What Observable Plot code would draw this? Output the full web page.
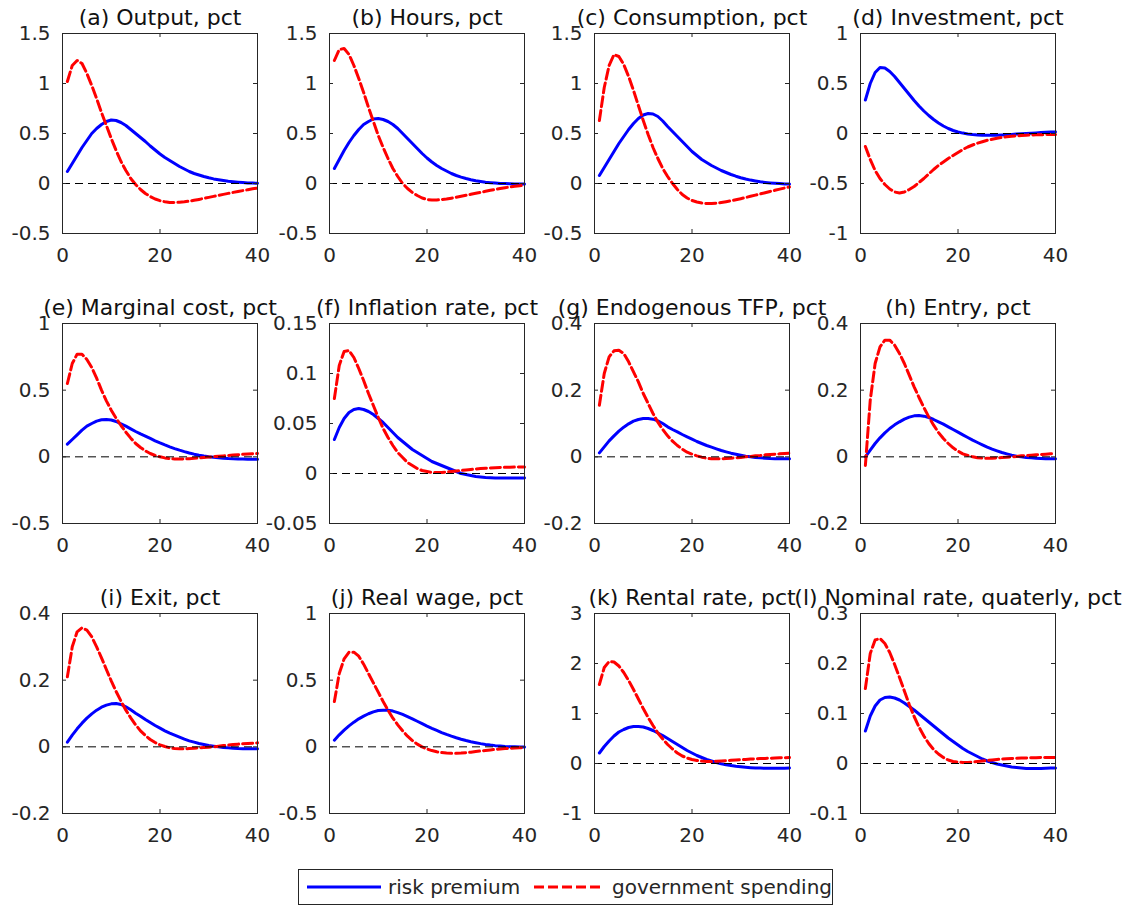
<!DOCTYPE html>
<html><head><meta charset="utf-8">
<script src="https://cdn.jsdelivr.net/npm/d3@7"></script>
<script src="https://cdn.jsdelivr.net/npm/@observablehq/plot@0.6"></script>
<style>
body{margin:0;background:#fff;font-family:"DejaVu Sans",sans-serif;}
#wrap{position:relative;width:1128px;height:907px;overflow:hidden;}
.panel{position:absolute;}
#legend{position:absolute;left:298px;top:869px;width:535px;height:36px;border:1px solid #262626;box-sizing:border-box;background:#fff;}
#legend span{position:absolute;top:50%;transform:translateY(-52%);font-size:20px;color:#262626;white-space:nowrap;}
#legend svg{position:absolute;}
</style></head>
<body><div id="wrap"></div>
<script>
const periods = d3.range(1, 41);
const xTicks = [0, 20, 40];
const titles = ["(a) Output, pct","(b) Hours, pct","(c) Consumption, pct","(d) Investment, pct",
  "(e) Marginal cost, pct","(f) Inflation rate, pct","(g) Endogenous TFP, pct","(h) Entry, pct",
  "(i) Exit, pct","(j) Real wage, pct","(k) Rental rate, pct","(l) Nominal rate, quaterly, pct"];
const yDomains = [[-0.5,1.5],[-0.5,1.5],[-0.5,1.5],[-1,1],[-0.5,1],[-0.05,0.15],[-0.2,0.4],[-0.2,0.4],[-0.2,0.4],[-0.5,1],[-1,3],[-0.1,0.3]];
const yTicks = [[-0.5,0,0.5,1,1.5],[-0.5,0,0.5,1,1.5],[-0.5,0,0.5,1,1.5],[-1,-0.5,0,0.5,1],[-0.5,0,0.5,1],
  [-0.05,0,0.05,0.1,0.15],[-0.2,0,0.2,0.4],[-0.2,0,0.2,0.4],[-0.2,0,0.2,0.4],[-0.5,0,0.5,1],[-1,0,1,2,3],[-0.1,0,0.1,0.2,0.3]];
const seriesNames = ["risk premium", "government spending"];

const outputRP = [0.12,0.2,0.28,0.36,0.43,0.5,0.55,0.59,0.62,0.635,0.63,0.61,0.58,0.54,0.5,0.46,0.42,0.375,0.335,0.295,0.26,0.23,0.2,0.17,0.145,0.12,0.1,0.085,0.07,0.057,0.046,0.037,0.029,0.022,0.017,0.013,0.009,0.006,0.004,0.002];
const outputGS = [1.02,1.18,1.23,1.2,1.1,0.98,0.85,0.71,0.58,0.45,0.33,0.22,0.13,0.05,-0.01,-0.06,-0.1,-0.13,-0.155,-0.172,-0.183,-0.189,-0.19,-0.188,-0.183,-0.176,-0.168,-0.159,-0.149,-0.139,-0.129,-0.119,-0.109,-0.099,-0.089,-0.08,-0.071,-0.062,-0.053,-0.045];
const hoursRP = [0.15,0.24,0.33,0.41,0.48,0.54,0.59,0.62,0.645,0.65,0.64,0.62,0.59,0.55,0.5,0.45,0.4,0.35,0.3,0.255,0.215,0.18,0.15,0.125,0.1,0.08,0.064,0.05,0.038,0.028,0.02,0.013,0.008,0.004,0.001,-0.001,-0.003,-0.004,-0.005,-0.005];
const hoursGS = [1.23,1.34,1.35,1.29,1.18,1.05,0.91,0.76,0.62,0.48,0.36,0.25,0.15,0.07,0.0,-0.05,-0.09,-0.12,-0.145,-0.16,-0.165,-0.165,-0.16,-0.155,-0.147,-0.138,-0.128,-0.118,-0.108,-0.098,-0.088,-0.078,-0.068,-0.059,-0.05,-0.042,-0.035,-0.028,-0.022,-0.017];
const consRP = [0.08,0.16,0.24,0.32,0.4,0.47,0.54,0.6,0.65,0.685,0.7,0.695,0.67,0.625,0.57,0.52,0.47,0.42,0.37,0.32,0.28,0.24,0.21,0.18,0.155,0.13,0.11,0.09,0.073,0.058,0.045,0.034,0.025,0.017,0.011,0.006,0.002,-0.001,-0.004,-0.006];
const consGS = [0.63,0.96,1.18,1.29,1.27,1.19,1.07,0.93,0.78,0.63,0.49,0.36,0.25,0.15,0.07,0.0,-0.06,-0.11,-0.145,-0.17,-0.185,-0.195,-0.2,-0.2,-0.197,-0.19,-0.182,-0.173,-0.163,-0.152,-0.14,-0.128,-0.116,-0.104,-0.092,-0.08,-0.068,-0.056,-0.045,-0.035];
const invRP = [0.335,0.5,0.61,0.66,0.655,0.62,0.57,0.51,0.45,0.39,0.33,0.275,0.225,0.18,0.14,0.105,0.075,0.05,0.03,0.015,0.004,-0.004,-0.01,-0.014,-0.017,-0.018,-0.018,-0.017,-0.015,-0.012,-0.009,-0.006,-0.003,0.0,0.003,0.006,0.009,0.012,0.014,0.016];
const invGS = [-0.13,-0.26,-0.37,-0.45,-0.51,-0.555,-0.585,-0.595,-0.585,-0.56,-0.53,-0.49,-0.45,-0.405,-0.36,-0.32,-0.285,-0.25,-0.22,-0.19,-0.16,-0.135,-0.115,-0.097,-0.082,-0.068,-0.057,-0.047,-0.039,-0.032,-0.027,-0.023,-0.02,-0.017,-0.015,-0.013,-0.012,-0.011,-0.01,-0.01];
const mcRP = [0.095,0.13,0.165,0.2,0.23,0.25,0.268,0.278,0.28,0.276,0.265,0.248,0.23,0.21,0.19,0.172,0.155,0.138,0.12,0.104,0.089,0.075,0.062,0.05,0.039,0.029,0.02,0.012,0.006,0.001,-0.003,-0.007,-0.01,-0.013,-0.015,-0.016,-0.017,-0.018,-0.018,-0.018];
const mcGS = [0.55,0.7,0.77,0.77,0.73,0.67,0.59,0.5,0.42,0.35,0.29,0.235,0.185,0.14,0.1,0.07,0.045,0.025,0.01,0.0,-0.008,-0.013,-0.016,-0.017,-0.016,-0.014,-0.011,-0.008,-0.005,-0.002,0.001,0.004,0.007,0.01,0.013,0.016,0.019,0.021,0.023,0.025];
const infRP = [0.034,0.046,0.055,0.061,0.064,0.065,0.064,0.062,0.059,0.055,0.051,0.046,0.041,0.036,0.032,0.028,0.024,0.021,0.018,0.015,0.012,0.01,0.008,0.006,0.004,0.002,0.0,-0.001,-0.002,-0.003,-0.0035,-0.004,-0.0043,-0.0045,-0.0046,-0.0046,-0.0046,-0.0045,-0.0045,-0.0044];
const infGS = [0.075,0.108,0.122,0.123,0.116,0.105,0.093,0.08,0.068,0.056,0.045,0.036,0.028,0.021,0.016,0.011,0.008,0.005,0.003,0.002,0.001,0.001,0.001,0.0015,0.002,0.0025,0.003,0.0035,0.004,0.0045,0.005,0.0053,0.0056,0.0058,0.006,0.0062,0.0063,0.0064,0.0065,0.0065];
const tfpRP = [0.012,0.03,0.048,0.063,0.077,0.089,0.099,0.107,0.112,0.115,0.115,0.113,0.108,0.1,0.09,0.082,0.075,0.067,0.06,0.053,0.046,0.04,0.034,0.029,0.024,0.019,0.015,0.011,0.008,0.005,0.002,0.0,-0.002,-0.003,-0.004,-0.005,-0.0055,-0.006,-0.006,-0.006];
const tfpGS = [0.155,0.25,0.3,0.318,0.32,0.31,0.285,0.255,0.225,0.19,0.16,0.13,0.104,0.082,0.063,0.047,0.034,0.023,0.014,0.008,0.003,-0.001,-0.004,-0.006,-0.006,-0.006,-0.005,-0.004,-0.003,-0.002,0.0,0.001,0.003,0.004,0.006,0.007,0.008,0.009,0.01,0.011];
const entryRP = [0.0,0.02,0.04,0.057,0.072,0.085,0.096,0.105,0.113,0.119,0.123,0.124,0.122,0.118,0.112,0.105,0.098,0.09,0.082,0.074,0.066,0.058,0.05,0.043,0.036,0.029,0.023,0.018,0.013,0.009,0.005,0.002,0.0,-0.002,-0.003,-0.004,-0.005,-0.006,-0.006,-0.006];
const entryGS = [-0.026,0.17,0.28,0.33,0.35,0.35,0.335,0.31,0.28,0.245,0.21,0.178,0.148,0.12,0.095,0.073,0.055,0.04,0.027,0.017,0.009,0.004,0.0,-0.003,-0.004,-0.004,-0.004,-0.003,-0.002,-0.001,0.0,0.001,0.003,0.004,0.005,0.006,0.007,0.008,0.009,0.01];
const exitRP = [0.014,0.035,0.054,0.071,0.086,0.099,0.11,0.119,0.125,0.129,0.13,0.127,0.12,0.111,0.101,0.092,0.082,0.073,0.064,0.056,0.048,0.041,0.035,0.029,0.023,0.018,0.014,0.01,0.007,0.004,0.002,0.0,-0.002,-0.003,-0.004,-0.005,-0.0055,-0.006,-0.006,-0.006];
const exitGS = [0.21,0.3,0.345,0.357,0.35,0.33,0.3,0.267,0.232,0.198,0.166,0.137,0.11,0.087,0.066,0.048,0.034,0.022,0.013,0.006,0.001,-0.003,-0.005,-0.006,-0.006,-0.005,-0.004,-0.003,-0.002,-0.001,0.0,0.002,0.004,0.005,0.007,0.008,0.009,0.01,0.011,0.012];
const wageRP = [0.05,0.09,0.125,0.157,0.185,0.21,0.23,0.248,0.262,0.272,0.275,0.274,0.268,0.257,0.243,0.227,0.21,0.192,0.174,0.156,0.139,0.123,0.107,0.093,0.08,0.068,0.057,0.047,0.038,0.031,0.024,0.018,0.013,0.009,0.006,0.003,0.001,0.0,-0.001,-0.002];
const wageGS = [0.34,0.55,0.66,0.71,0.71,0.68,0.62,0.55,0.48,0.41,0.34,0.275,0.215,0.165,0.12,0.08,0.047,0.02,0.0,-0.016,-0.028,-0.037,-0.043,-0.047,-0.049,-0.049,-0.047,-0.044,-0.04,-0.035,-0.031,-0.027,-0.023,-0.019,-0.016,-0.013,-0.011,-0.009,-0.007,-0.006];
const rentRP = [0.21,0.34,0.45,0.55,0.63,0.68,0.72,0.74,0.74,0.73,0.7,0.66,0.61,0.56,0.5,0.44,0.38,0.32,0.26,0.21,0.16,0.12,0.08,0.05,0.02,-0.005,-0.025,-0.042,-0.056,-0.067,-0.076,-0.083,-0.088,-0.092,-0.094,-0.095,-0.095,-0.094,-0.093,-0.092];
const rentGS = [1.58,1.92,2.04,2.03,1.95,1.82,1.66,1.48,1.29,1.1,0.92,0.76,0.61,0.49,0.38,0.29,0.21,0.15,0.11,0.08,0.06,0.048,0.042,0.042,0.045,0.05,0.056,0.063,0.07,0.076,0.082,0.088,0.093,0.098,0.102,0.106,0.11,0.113,0.116,0.118];
const nomRP = [0.065,0.095,0.115,0.127,0.132,0.133,0.131,0.127,0.121,0.114,0.107,0.099,0.091,0.083,0.075,0.067,0.059,0.051,0.044,0.037,0.03,0.024,0.019,0.014,0.009,0.005,0.002,-0.001,-0.003,-0.005,-0.007,-0.008,-0.009,-0.01,-0.01,-0.01,-0.01,-0.0095,-0.009,-0.009];
const nomGS = [0.15,0.22,0.247,0.25,0.24,0.222,0.198,0.172,0.145,0.118,0.094,0.073,0.055,0.04,0.028,0.019,0.012,0.007,0.004,0.003,0.002,0.002,0.003,0.004,0.005,0.006,0.007,0.008,0.009,0.0095,0.01,0.0105,0.011,0.0112,0.0115,0.0117,0.0118,0.012,0.012,0.012];

const rpSeries = [outputRP,hoursRP,consRP,invRP,mcRP,infRP,tfpRP,entryRP,exitRP,wageRP,rentRP,nomRP];
const gsSeries = [outputGS,hoursGS,consGS,invGS,mcGS,infGS,tfpGS,entryGS,exitGS,wageGS,rentGS,nomGS];

const colLeft = [0, 266.5, 531.5, 797.5];
const rowTop = [0, 290, 580];
const W = 266, H = 290, mL = 62, mR = 9, mT = 33, mB = 57;
const boxW = W - mL - mR, boxH = H - mT - mB, tick = 4;
const fmt = d => String(d);
const wrap = document.getElementById("wrap");

titles.forEach((title, i) => {
  const rp = rpSeries[i], gs = gsSeries[i];
  const svg = Plot.plot({
    width: W, height: H,
    marginLeft: mL, marginRight: mR, marginTop: mT, marginBottom: mB,
    style: {overflow: "visible", fontFamily: "DejaVu Sans", fontSize: "20px", color: "#262626", background: "transparent"},
    x: {domain: [0, 40], ticks: xTicks, tickSize: 0, tickPadding: 14, label: null, tickFormat: fmt},
    y: {domain: yDomains[i], ticks: yTicks[i], tickSize: 0, tickPadding: 12, label: null, tickFormat: fmt},
    marks: [
      Plot.line(periods, {x: d => d, y: (d, j) => rp[j], stroke: "#0000ff", strokeWidth: 3}),
      Plot.line(periods, {x: d => d, y: (d, j) => gs[j], stroke: "#ff0000", strokeWidth: 3, strokeDasharray: "10,4"}),
      Plot.ruleY([0], {stroke: "#000", strokeWidth: 1, strokeDasharray: "8,5"}),
      Plot.tickY(yTicks[i], {y: d => d, insetRight: boxW - tick, stroke: "#262626"}),
      Plot.tickY(yTicks[i], {y: d => d, insetLeft: boxW - tick, stroke: "#262626"}),
      Plot.tickX(xTicks, {x: d => d, insetTop: boxH - tick, stroke: "#262626"}),
      Plot.tickX(xTicks, {x: d => d, insetBottom: boxH - tick, stroke: "#262626"}),
      Plot.frame({stroke: "#262626", strokeWidth: 1}),
      Plot.text([title], {text: d => d, frameAnchor: "top", dy: -9, lineAnchor: "bottom", fontSize: 22, fill: "#111"})
    ]
  });
  svg.classList.add("panel");
  svg.style.left = colLeft[i % 4] + "px";
  svg.style.top = rowTop[Math.floor(i / 4)] + "px";
  svg.style.position = "absolute";
  wrap.appendChild(svg);
});

// legend
const leg = document.createElement("div");
leg.id = "legend";
leg.innerHTML = `
<svg style="left:8px;top:12px" width="74" height="10"><line x1="0" x2="74" y1="5" y2="5" stroke="#0000ff" stroke-width="3"/></svg>
<span style="left:89px">${seriesNames[0]}</span>
<svg style="left:235px;top:12px" width="68" height="10"><line x1="0" x2="68" y1="5" y2="5" stroke="#ff0000" stroke-width="3" stroke-dasharray="10,4"/></svg>
<span style="left:313px">${seriesNames[1]}</span>`;
wrap.appendChild(leg);
</script>
</body></html>
